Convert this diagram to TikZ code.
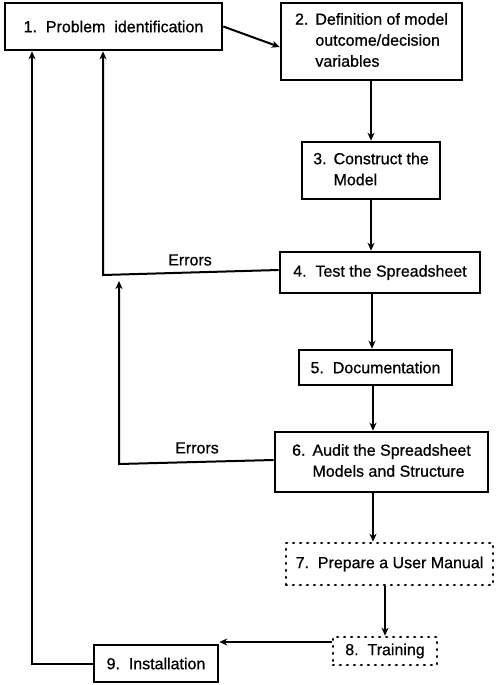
\documentclass[tikz,border=0pt]{standalone}
\usepackage{fontspec}
\setmainfont{Liberation Sans}[FakeBold=0.7]
\usetikzlibrary{arrows.meta,calc}
\begin{document}
\begin{tikzpicture}[x=1pt,y=-1pt,
  box/.style={draw, line width=2.6pt, inner sep=0pt, font=\fontsize{16}{21}\selectfont},
  dotbox/.style={draw, line width=2.6pt, dash pattern=on 0.8pt off 6.2pt, line cap=round, inner sep=0pt, font=\fontsize{16}{21}\selectfont},
  conn/.style={line width=2pt, -{Stealth[length=8pt,width=7pt,inset=2.5pt]}},
  lbl/.style={inner sep=0pt, font=\fontsize{16}{18}\selectfont}]
\useasboundingbox (0,0) rectangle (500,685);
\node[box, minimum width=217pt, minimum height=47pt] (b1) at (113.5,26.5) {1.\ \ Problem\ \ identification};
\node[box, minimum width=181pt, minimum height=77pt] (b2) at (371.5,41.5)
  {\begin{tabular}{@{}l@{\hspace{7pt}}l@{}}2. & Definition of model\\ & outcome/decision\\ & variables\end{tabular}};
\node[box, minimum width=138pt, minimum height=57pt] (b3) at (371,170.5)
  {\begin{tabular}{@{}l@{\hspace{7pt}}l@{}}3. & Construct the\\ & Model\end{tabular}};
\node[box, minimum width=200pt, minimum height=41pt] (b4) at (380,272.5) {4.\ \ Test the Spreadsheet};
\node[box, minimum width=153pt, minimum height=35pt] (b5) at (375.5,367.5) {5.\ \ Documentation};
\node[box, minimum width=213pt, minimum height=60pt] (b6) at (381.5,462)
  {\begin{tabular}{@{}l@{\hspace{7pt}}l@{}}6. & Audit the Spreadsheet\\ & Models and Structure\end{tabular}};
\node[dotbox, minimum width=207pt, minimum height=42pt] (b7) at (389.5,564) {7.\ \ Prepare a User Manual};
\node[dotbox, minimum width=104pt, minimum height=28pt] (b8) at (385,651) {8.\ \ Training};
\node[box, minimum width=124pt, minimum height=37pt] (b9) at (156,663.5) {9.\ \ Installation};
\node[lbl] (e1) at (190,260) {Errors};
\node[lbl] (e2) at (197,448) {Errors};
% main flow
\draw[conn] (b1.east) -- ([yshift=-5.5pt]b2.west);
\draw[conn] ([xshift=-0.5pt]b2.south) -- ([xshift=-0.5pt]b2.south |- b3.north);
\draw[conn] (b3.south) -- (b3.south |- b4.north);
\draw[conn] ([xshift=-8pt]b4.south) -- ([xshift=-8pt]b4.south |- b5.north);
\draw[conn] ([xshift=-2.5pt]b5.south) -- ([xshift=-2.5pt]b5.south |- b6.north);
\draw[conn] ([xshift=-8.5pt]b6.south) -- ([xshift=-8.5pt]b6.south |- b7.north);
\draw[conn] (b8.north |- b7.south) -- (b8.north);
\coordinate (a8) at ([yshift=9pt]b8.west);
\draw[conn] (a8) -- (a8 -| b9.east);
% feedback loops
\coordinate (k1) at (32,663.5);
\draw[conn] (b9.west) -- (k1) -- (k1 |- b1.south);
\coordinate (k2) at (103,275);
\draw[conn] ([yshift=2.5pt]b4.west) -- (k2) -- (k2 |- b1.south);
\coordinate (k3) at (119,464);
\coordinate (t3) at (119,281);
\draw[conn] ([yshift=2pt]b6.west) -- (k3) -- (t3);
\end{tikzpicture}
\end{document}
